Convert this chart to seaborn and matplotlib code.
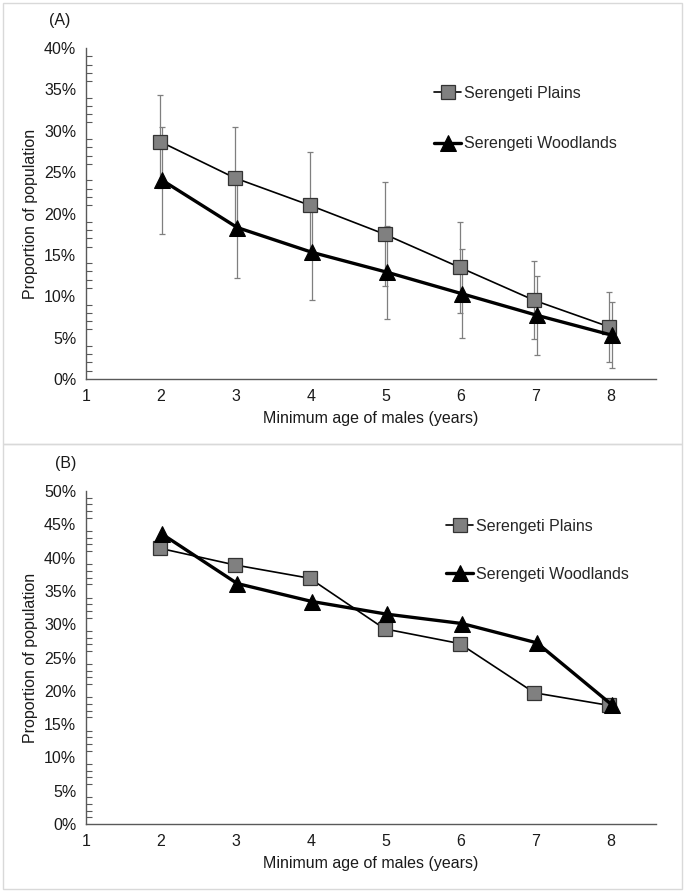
import matplotlib
matplotlib.use("Agg")
import matplotlib.pyplot as plt
import matplotlib.transforms as mtransforms
from matplotlib.patches import Rectangle
from matplotlib.ticker import MultipleLocator, PercentFormatter
import numpy as np
import pandas as pd
import seaborn as sns

AGES = [2, 3, 4, 5, 6, 7, 8]
SERIES = ["Serengeti Plains", "Serengeti Woodlands"]

# panel A: proportions (%) with error bars
A_PLAINS = [28.7, 24.3, 21.0, 17.5, 13.5, 9.5, 6.3]
A_PLAINS_ERR = [5.6, 6.2, 6.4, 6.3, 5.5, 4.7, 4.2]
A_WOOD = [24.0, 18.3, 15.3, 12.9, 10.3, 7.7, 5.3]
A_WOOD_ERR = [6.5, 6.1, 5.7, 5.6, 5.4, 4.8, 4.0]

# panel B: proportions (%)
B_PLAINS = [41.4, 38.9, 36.9, 29.3, 27.1, 19.7, 17.8]
B_WOOD = [43.5, 36.1, 33.4, 31.5, 30.1, 27.2, 17.9]

AX_COLOR = "#595959"
TXT = "#1a1a1a"
FS = 11.5

sns.set_theme(style="white")
plt.rcParams["font.family"] = ["Liberation Sans", "DejaVu Sans"]
plt.rcParams["font.size"] = FS


def make_df(plains, wood):
    return pd.DataFrame({
        "age": AGES * 2,
        "value": list(plains) + list(wood),
        "site": [SERIES[0]] * len(AGES) + [SERIES[1]] * len(AGES),
    })


def draw_panel(fig, rect, plains, wood, ymax, tag, tag_xy, leg_xy, spacing,
               plains_err=None, wood_err=None):
    ax = fig.add_axes(rect)
    df = make_df(plains, wood)
    shift_p = mtransforms.ScaledTranslation(-1 / 100, 0, fig.dpi_scale_trans)
    shift_w = mtransforms.ScaledTranslation(1.5 / 100, 0, fig.dpi_scale_trans)

    if plains_err is not None:
        ax.errorbar(AGES, plains, yerr=plains_err, fmt="none", ecolor="#7f7f7f",
                    elinewidth=0.9, capsize=2.5, capthick=0.9, zorder=2,
                    transform=ax.transData + shift_p)
        ax.errorbar(AGES, wood, yerr=wood_err, fmt="none", ecolor="#7f7f7f",
                    elinewidth=0.9, capsize=2.5, capthick=0.9, zorder=2,
                    transform=ax.transData + shift_w)

    sns.lineplot(data=df[df.site == SERIES[0]], x="age", y="value", ax=ax,
                 color="black", lw=1.2, marker="s", markersize=9.5,
                 markerfacecolor="#808080", markeredgecolor="#333333",
                 markeredgewidth=0.9, label=SERIES[0], zorder=3)
    sns.lineplot(data=df[df.site == SERIES[1]], x="age", y="value", ax=ax,
                 color="black", lw=2.4, marker="^", markersize=11,
                 markerfacecolor="black", markeredgecolor="black",
                 label=SERIES[1], zorder=4)
    for ln, sh in zip(ax.lines[-2:], (shift_p, shift_w)):
        ln.set_transform(ax.transData + sh)

    ax.set_xlim(1, 8.61)
    ax.set_ylim(0, ymax)
    ax.set_xticks(range(1, 9))
    ax.yaxis.set_major_locator(MultipleLocator(5))
    ax.yaxis.set_minor_locator(MultipleLocator(1))
    ax.yaxis.set_major_formatter(PercentFormatter(decimals=0))
    ax.tick_params(axis="y", which="major", direction="inout", length=8,
                   width=0.9, color=AX_COLOR, labelsize=FS, labelcolor=TXT, pad=3)
    ax.tick_params(axis="y", which="minor", direction="in", length=4,
                   width=0.8, color=AX_COLOR, left=True)
    ax.tick_params(axis="x", which="major", direction="inout", length=9,
                   width=0.9, color=AX_COLOR, labelsize=FS, labelcolor=TXT, pad=3)
    for s in ("top", "right"):
        ax.spines[s].set_visible(False)
    for s in ("left", "bottom"):
        ax.spines[s].set_color(AX_COLOR)
        ax.spines[s].set_linewidth(1.0)
    ax.set_xlabel("Minimum age of males (years)", fontsize=FS, color=TXT, labelpad=5)
    ax.set_ylabel("Proportion of population", fontsize=FS, color=TXT, labelpad=4)

    ax.legend(loc="upper left", bbox_to_anchor=leg_xy, bbox_transform=fig.transFigure,
              frameon=False, fontsize=FS, handlelength=1.7, handletextpad=0.2,
              labelspacing=spacing, borderpad=0, borderaxespad=0)
    fig.text(tag_xy[0], tag_xy[1], tag, fontsize=FS, color=TXT, ha="center", va="center")
    return ax


fig = plt.figure(figsize=(6.84, 8.92), dpi=100)

for y0, y1 in ((3, 444), (444, 889)):
    fig.patches.append(Rectangle((3 / 684, 1 - y1 / 892), 679 / 684, (y1 - y0) / 892,
                                 transform=fig.transFigure, fill=False,
                                 edgecolor="#d9d9d9", lw=1.0))

left, width = 86 / 684, (656 - 86) / 684
draw_panel(fig, [left, 1 - 379 / 892, width, (379 - 48) / 892],
           A_PLAINS, A_WOOD, 40, "(A)", (60 / 684, 1 - 20 / 892),
           (434 / 684, 1 - 86 / 892), 2.2, A_PLAINS_ERR, A_WOOD_ERR)
draw_panel(fig, [left, 1 - 824 / 892, width, (824 - 491) / 892],
           B_PLAINS, B_WOOD, 50, "(B)", (66 / 684, 1 - 464 / 892),
           (446 / 684, 1 - 519 / 892), 2.05)

fig.savefig("out.png", dpi=100)
